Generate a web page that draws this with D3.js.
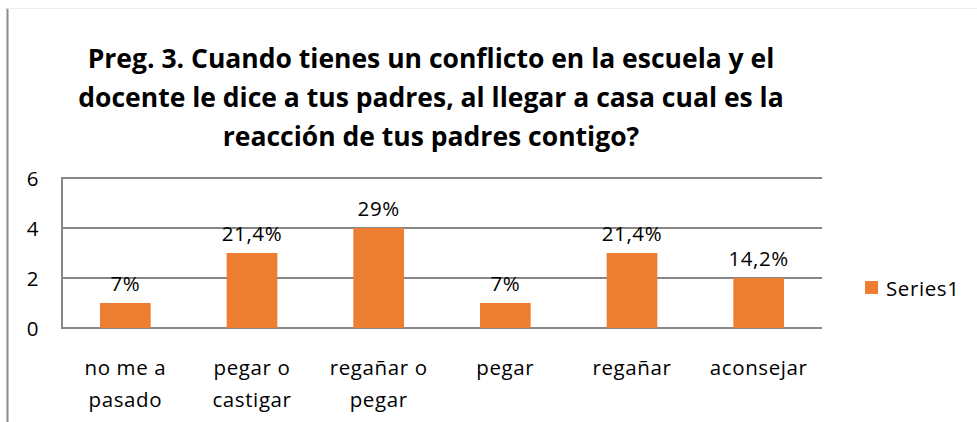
<!DOCTYPE html>
<html>
<head>
    <meta charset="utf-8">
    <script src="https://d3js.org/d3.v7.min.js"></script>
    <style>
        body { margin: 0; background: #fff; }
        text { font-family: "Open Sans", Lato, sans-serif; fill: #000; }
        .title { font-weight: bold; font-size: 26.5px; }
        .lbl { font-size: 20.5px; letter-spacing: 0.6px; }
        .grid line { stroke: #868686; stroke-width: 2; }
        .bar { fill: #ED7D31; }
    </style>
</head>
<body>
<div id="vis"></div>
<script>
    // chart data
    var categories = ["no me a|pasado", "pegar o|castigar", "regañar o|pegar", "pegar", "regañar", "aconsejar"];
    var values = [1, 3, 4, 1, 3, 2];
    var pctLabels = ["7%", "21,4%", "29%", "7%", "21,4%", "14,2%"];
    var yTicks = [0, 2, 4, 6];
    var titleLines = [
        "Preg. 3. Cuando tienes un conflicto en la escuela y el",
        "docente le dice a tus padres, al llegar a casa cual es la",
        "reacción de tus padres contigo?"
    ];
    var seriesName = "Series1";

    var W = 977, H = 422;
    var plot = {left: 62, right: 822, top: 178, bottom: 328};

    var svg = d3.select("#vis").append("svg")
        .attr("width", W).attr("height", H);

    // outer frame (partially visible)
    svg.append("line").attr("x1", 7.5).attr("x2", 7.5).attr("y1", 8).attr("y2", H)
        .attr("stroke", "#8c8c8c").attr("stroke-width", 2);
    svg.append("line").attr("x1", 7).attr("x2", W).attr("y1", 8.5).attr("y2", 8.5)
        .attr("stroke", "#eeeeee").attr("stroke-width", 1);

    // title
    svg.append("g").selectAll("text").data(titleLines).enter().append("text")
        .attr("class", "title")
        .attr("x", 431)
        .attr("y", function(d, i) { return 68 + i * 39; })
        .attr("text-anchor", "middle")
        .text(function(d) { return d; });

    var x = d3.scaleBand().domain(d3.range(categories.length))
        .range([plot.left, plot.right]).paddingInner(0.6).paddingOuter(0.3);
    var y = d3.scaleLinear().domain([0, 6]).range([plot.bottom, plot.top]);

    // gridlines
    var grid = svg.append("g").attr("class", "grid");
    grid.selectAll("line").data(yTicks.filter(function(d) { return d > 0; })).enter().append("line")
        .attr("x1", plot.left).attr("x2", plot.right)
        .attr("y1", function(d) { return y(d); }).attr("y2", function(d) { return y(d); });
    grid.append("line").attr("x1", plot.left).attr("x2", plot.left)
        .attr("y1", plot.top - 1).attr("y2", plot.bottom + 1);
    grid.append("line").attr("x1", plot.left - 1).attr("x2", plot.right)
        .attr("y1", plot.bottom).attr("y2", plot.bottom);

    // y axis labels
    svg.append("g").selectAll("text").data(yTicks).enter().append("text")
        .attr("class", "lbl")
        .attr("x", 39).attr("y", function(d) { return y(d) + 8; })
        .attr("text-anchor", "end")
        .text(function(d) { return d; });

    // bars
    svg.append("g").selectAll("rect").data(values).enter().append("rect")
        .attr("class", "bar")
        .attr("x", function(d, i) { return x(i); })
        .attr("width", x.bandwidth())
        .attr("y", function(d) { return y(d); })
        .attr("height", function(d) { return y(0) - y(d); });

    // data labels
    svg.append("g").selectAll("text").data(values).enter().append("text")
        .attr("class", "lbl")
        .attr("x", function(d, i) { return x(i) + x.bandwidth() / 2; })
        .attr("y", function(d) { return y(d) - 12; })
        .attr("text-anchor", "middle")
        .text(function(d, i) { return pctLabels[i]; });

    // category labels
    var cat = svg.append("g").selectAll("text").data(categories).enter().append("text")
        .attr("class", "lbl")
        .attr("text-anchor", "middle")
        .attr("transform", function(d, i) { return "translate(" + (x(i) + x.bandwidth() / 2) + ",375)"; });
    cat.selectAll("tspan").data(function(d) { return d.split("|"); }).enter().append("tspan")
        .attr("x", 0).attr("dy", function(d, i) { return i ? 32 : 0; })
        .text(function(d) { return d; });

    // legend
    svg.append("rect").attr("x", 865).attr("y", 281).attr("width", 13).attr("height", 13)
        .attr("class", "bar");
    svg.append("text").attr("class", "lbl").attr("x", 886).attr("y", 296).text(seriesName);
</script>
</body>
</html>
